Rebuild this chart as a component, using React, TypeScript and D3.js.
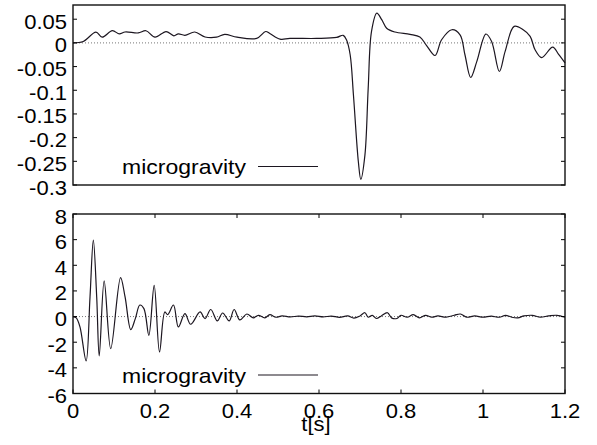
import React from "react";
import * as d3 from "d3";

// Top panel: acceleration (microgravity), t [s] vs value
const topT = [0, 0.025, 0.056, 0.071, 0.096, 0.113, 0.127, 0.159, 0.178, 0.2, 0.227, 0.246, 0.257, 0.273, 0.297, 0.322, 0.35, 0.37, 0.4, 0.448, 0.47, 0.48, 0.505, 0.529, 0.594, 0.643, 0.659, 0.667, 0.676, 0.684, 0.696, 0.702, 0.712, 0.72, 0.728, 0.741, 0.753, 0.765, 0.785, 0.822, 0.846, 0.862, 0.883, 0.899, 0.924, 0.944, 0.956, 0.97, 0.985, 1.007, 1.021, 1.04, 1.054, 1.076, 1.098, 1.115, 1.127, 1.143, 1.17, 1.184, 1.2];
const topV = [0, 0.003, 0.0226, 0.012, 0.0257, 0.019, 0.023, 0.021, 0.0257, 0.012, 0.024, 0.015, 0.019, 0.016, 0.023, 0.0125, 0.012, 0.018, 0.012, 0.0095, 0.024, 0.02, 0.008, 0.0094, 0.0094, 0.0115, 0.016, 0.0066, -0.025, -0.11, -0.251, -0.288, -0.237, -0.0955, 0.024, 0.063, 0.049, 0.031, 0.023, 0.018, 0.0125, -0.005, -0.0266, 0.0066, 0.0278, 0.017, -0.025, -0.073, -0.039, 0.0187, 0.003, -0.0604, -0.018, 0.0348, 0.0278, 0.0139, -0.0145, -0.031, -0.0088, -0.0236, -0.042];

// Bottom panel
const botT = [0, 0.008, 0.017, 0.032, 0.0415, 0.0496, 0.0578, 0.064, 0.076, 0.092, 0.116, 0.127, 0.141, 0.152, 0.163, 0.173, 0.185, 0.198, 0.211, 0.224, 0.231, 0.245, 0.257, 0.273, 0.287, 0.31, 0.322, 0.336, 0.352, 0.365, 0.381, 0.393, 0.407, 0.424, 0.44, 0.452, 0.468, 0.48, 0.495, 0.51, 0.53, 0.55, 0.57, 0.59, 0.61, 0.63, 0.65, 0.67, 0.685, 0.7, 0.712, 0.72, 0.73, 0.74, 0.752, 0.767, 0.777, 0.79, 0.8, 0.815, 0.83, 0.845, 0.86, 0.875, 0.89, 0.91, 0.93, 0.945, 0.96, 0.98, 1.0, 1.02, 1.04, 1.055, 1.07, 1.085, 1.1, 1.12, 1.14, 1.16, 1.18, 1.2];
const botV = [0, -0.1, -0.81, -3.46, 1.53, 5.96, 1.53, -3.07, 2.78, -2.5, 3.04, 1.53, -1.02, -0.16, 0.9, 0.62, -1.46, 2.44, -2.76, 0.36, 0.15, 0.9, -0.81, 0.23, -0.6, 0.36, -0.16, 0.55, -0.34, 0.28, -0.34, 0.55, -0.26, 0.2, -0.1, 0.1, -0.1, 0.15, -0.05, 0.05, -0.03, 0.04, -0.02, 0.05, -0.03, 0.04, -0.06, 0.05, -0.12, 0.05, 0.3, -0.05, 0.1, -0.15, 0.05, 0.3, -0.1, -0.15, 0.1, -0.05, 0.15, -0.1, 0.1, -0.05, 0.05, -0.05, 0.1, 0.2, -0.05, 0.05, -0.05, 0.03, -0.05, 0.1, -0.05, -0.1, 0.05, 0.1, -0.05, 0.05, 0.1, -0.05];

const xTicks = [0, 0.2, 0.4, 0.6, 0.8, 1, 1.2];
const xTickLabels = ["0", "0.2", "0.4", "0.6", "0.8", "1", "1.2"];
const topYTicks = [0.05, 0, -0.05, -0.1, -0.15, -0.2, -0.25, -0.3];
const topYLabels = ["0.05", "0", "-0.05", "-0.1", "-0.15", "-0.2", "-0.25", "-0.3"];
const botYTicks = [8, 6, 4, 2, 0, -2, -4, -6];
const botYLabels = ["8", "6", "4", "2", "0", "-2", "-4", "-6"];
const legendLabel = "microgravity";
const xAxisTitle = "t[s]";

const W = 597, H = 445;
const L = 73, R = 565;
const FONT = "'Liberation Sans', Arial, sans-serif";
const FS = 20;
const SX = 1.1;
const INK = "#1c1620";

function Txt({ x, y, anchor, sx = SX, children }: { x: number; y: number; anchor: string; sx?: number; children: React.ReactNode }) {
  return (
    <g transform={`translate(${x},${y}) scale(${sx},1)`}>
      <text x={0} y={0} textAnchor={anchor} fontFamily={FONT} fontSize={FS} fill="#000">{children}</text>
    </g>
  );
}

function Panel({ ts, vs, domain, yTicks, yLabels, top, bottom, xTicksOn, legendY }: any) {
  const x = d3.scaleLinear().domain([0, 1.2]).range([L, R]);
  const y = d3.scaleLinear().domain(domain).range([bottom, top]);
  const data = ts.map((t: number, i: number) => [t, vs[i]] as [number, number]);
  const line = d3.line<[number, number]>().x(d => x(d[0])).y(d => y(d[1])).curve(d3.curveCatmullRom.alpha(0.5));
  const tl = 4;
  return (
    <g>
      <line x1={L} x2={R} y1={y(0)} y2={y(0)} stroke="#777" strokeWidth={1} strokeDasharray="1,2" />
      <path d={line(data) || ""} fill="none" stroke={INK} strokeWidth={1.2} />
      {yTicks.map((v: number, i: number) => (
        <g key={"y" + i}>
          <line x1={L} x2={L + tl} y1={y(v)} y2={y(v)} stroke="#000" />
          <line x1={R - tl} x2={R} y1={y(v)} y2={y(v)} stroke="#000" />
          <Txt x={L - 6} y={y(v) + 9.5} anchor="end">{yLabels[i]}</Txt>
        </g>
      ))}
      {xTicksOn && xTicks.map((v: number, i: number) => (
        <g key={"x" + i}>
          <line x1={x(v)} x2={x(v)} y1={bottom} y2={bottom - tl} stroke="#000" />
          <line x1={x(v)} x2={x(v)} y1={top} y2={top + tl} stroke="#000" />
        </g>
      ))}
      <rect x={L} y={top} width={R - L} height={bottom - top} fill="none" stroke="#111" strokeWidth={1.4} />
      <Txt x={246} y={legendY + 7.5} anchor="end" sx={1.15}>{legendLabel}</Txt>
      <line x1={258} x2={318} y1={legendY} y2={legendY} stroke={INK} strokeWidth={1.2} />
    </g>
  );
}

export default function App() {
  const xb = d3.scaleLinear().domain([0, 1.2]).range([L, R]);
  return (
    <svg width={W} height={H} style={{ position: "absolute", left: 0, top: 0, background: "#fff" }}>
      <Panel ts={topT} vs={topV} domain={[-0.3, 0.08]} yTicks={topYTicks} yLabels={topYLabels} top={5} bottom={185} xTicksOn={false} legendY={166.5} />
      <Panel ts={botT} vs={botV} domain={[-6, 8]} yTicks={botYTicks} yLabels={botYLabels} top={214} bottom={393.5} xTicksOn={true} legendY={375} />
      {xTicks.map((v, i) => (
        <Txt key={i} x={xb(v)} y={418} anchor="middle">{xTickLabels[i]}</Txt>
      ))}
      <Txt x={xb(0.6) - 3} y={431} anchor="middle">{xAxisTitle}</Txt>
    </svg>
  );
}
